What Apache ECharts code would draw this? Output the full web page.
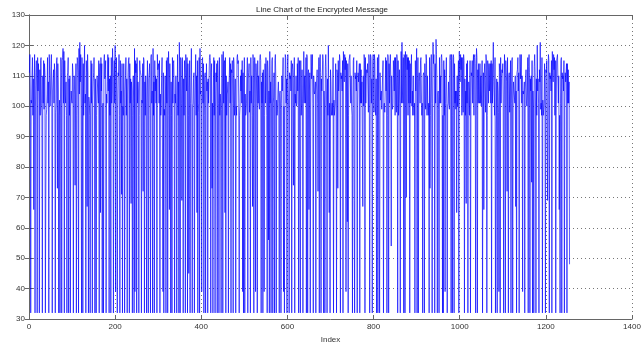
<!DOCTYPE html>
<html>
<head>
<meta charset="utf-8">
<script src="https://cdn.jsdelivr.net/npm/echarts@6/dist/echarts.min.js"></script>
<style>
  html, body { margin: 0; padding: 0; background: #fff; }
  #chart { width: 644px; height: 342px; }
</style>
</head>
<body>
<div id="chart"></div>
<script>
// character codes of the message (index 1..n)
var codes = [
  111,117,105,32,102,101,110,116,97,109,66,108,117,32,100,111,115,105,32,116,
  105,114,101,32,112,97,115,116,101,97,32,110,101,115,99,114,111,32,70,97,
  99,104,116,101,108,32,117,110,100,105,113,117,101,32,105,109,112,101,114,111,
  32,98,101,115,116,73,114,105,32,97,102,32,101,116,111,32,115,116,119,101,
  118,32,115,104,101,108,97,32,110,111,116,32,109,97,110,32,100,105,102,101,
  114,111,32,105,110,104,74,101,114,32,97,116,115,111,32,119,104,121,108,117,
  99,32,116,101,32,114,97,110,120,101,104,32,115,111,67,117,110,32,103,101,
  97,32,105,115,101,114,32,102,108,111,116,105,32,109,101,32,97,110,110,104,
  101,115,32,111,114,65,116,105,114,32,100,101,32,115,117,109,112,115,32,104,
  101,108,117,105,116,32,109,97,110,32,116,101,105,119,111,32,108,115,101,120,
  39,104,116,101,32,99,111,110,117,97,32,115,101,105,71,114,32,100,97,114,
  101,32,105,110,116,97,109,32,104,111,115,116,32,114,101,109,68,108,105,32,
  97,110,101,32,119,39,115,111,114,32,116,101,108,105,32,97,115,112,111,110,
  32,102,101,114,72,116,115,32,108,97,110,100,32,105,115,101,32,109,111,114,
  97,32,116,117,101,105,32,119,97,108,32,115,105,110,101,109,32,117,112,112,
  114,101,115,32,104,97,101,110,116,116,39,111,32,99,97,110,105,32,115,101,
  116,32,97,118,111,66,114,101,32,108,97,32,116,101,114,115,105,32,104,101,
  110,100,32,103,117,97,108,32,121,111,32,116,115,101,69,116,104,32,109,97,
  115,111,32,117,110,105,116,32,114,97,45,105,115,32,101,110,119,101,32,100,
  101,109,111,32,99,108,117,97,110,65,115,32,98,101,116,32,119,104,105,101,
  39,115,116,101,114,32,97,110,111,32,102,114,105,108,32,109,101,110,116,117,
  115,32,111,114,73,101,32,105,116,97,115,32,100,111,108,114,32,115,110,101,
  32,116,97,104,101,32,99,117,109,32,118,101,114,115,65,116,32,110,97,104,
  105,108,32,105,110,116,101,114,32,112,111,115,101,32,116,114,97,101,109,32,
  100,97,116,117,114,115,101,32,97,100,110,105,112,101,115,39,111,32,101,116,
  32,104,97,98,101,110,116,32,109,111,114,98,105,32,116,101,110,97,67,117,
  115,32,101,116,111,39,114,110,101,32,115,101,110,101,99,116,117,115,32,108,
  101,111,32,112,104,39,97,114,101,116,114,97,32,115,111,56,105,32,118,101,
  108,32,101,115,116,32,101,103,111,32,115,117,109,32,102,97,99,105,108,101,
  32,104,105,99,32,101,110,105,109,116,39,100,32,97,117,116,101,109,32,113,
  117,105,97,32,111,109,110,105,115,32,112,114,111,74,105,116,32,104,101,110,
  100,101,114,105,116,32,101,115,70,32,115,97,101,112,101,32,101,118,101,110,
  105,101,116,32,117,116,32,111,112,66,105,111,32,99,117,109,113,117,101,32,
  110,105,104,105,108,32,105,109,112,101,72,105,116,32,113,117,111,32,109,105,
  110,117,115,32,105,100,32,113,117,111,100,32,109,97,120,105,65,101,32,112,
  108,97,99,101,97,116,32,102,97,99,101,114,101,32,112,111,73,115,105,109,
  117,115,32,111,109,110,105,115,32,118,111,108,117,112,116,39,115,101,62,114,
  32,97,115,115,117,109,101,110,100,97,32,101,115,116,69,32,111,109,110,105,
  115,32,100,111,108,111,114,32,114,101,112,101,108,108,67,110,100,117,115,32,
  116,101,109,112,111,114,105,98,117,115,32,97,117,116,101,109,32,113,117,105,
  98,117,115,100,97,109,32,101,116,32,97,117,71,32,111,102,102,105,99,105,
  105,115,32,100,101,98,105,116,105,115,32,97,117,116,32,114,101,114,117,109,
  54,110,101,99,101,115,115,105,116,97,116,105,98,117,115,32,115,97,101,112,
  101,32,101,118,101,121,105,101,116,32,117,116,32,118,111,70,117,112,116,97,
  116,101,115,32,114,101,112,117,100,105,97,110,100,97,101,32,115,105,110,119,
  32,101,116,32,109,111,108,101,115,116,105,97,101,32,110,111,110,32,114,101,
  99,117,115,97,110,100,97,101,32,116,73,97,113,117,101,32,101,121,114,117,
  109,32,114,101,122,117,109,32,104,105,99,32,116,101,110,101,116,117,114,32,
  97,32,115,97,112,39,101,110,116,101,32,100,101,108,101,99,116,117,115,32,
  117,116,32,97,117,116,32,114,101,105,99,105,65,110,100,105,115,32,118,111,
  108,117,112,116,97,116,105,98,117,115,32,109,97,105,68,114,101,115,32,97,
  108,105,97,115,32,99,111,110,115,101,113,117,97,116,117,114,32,97,119,116,
  32,112,101,114,102,101,114,101,110,100,105,115,32,100,111,66,111,114,105,98,
  117,115,32,97,115,112,101,114,105,111,114,101,115,32,114,101,112,121,108,108,
  97,116,32,78,97,109,32,108,105,98,39,114,111,32,116,101,109,112,111,114,
  101,32,99,117,109,32,115,111,108,72,116,97,32,110,111,98,105,115,32,101,
  115,116,32,101,108,105,103,101,110,67,105,32,111,112,116,105,111,32,99,117,
  109,113,117,101,110,39,105,104,105,108,32,105,109,112,101,100,105,116,32,113,
  117,111,32,109,105,110,75,115,32,105,100,32,113,117,111,100,32,109,97,120,
  105,109,101,32,112,108,121,99,101,97,116,32,102,97,99,101,114,101,32,112,
  111,115,115,69,109,117,115,32,111,109,110,105,115,32,118,111,108,117,112,116,
  97,115,32,97,115,115,117,109,101,110,66,97,32,101,115,116,32,111,109,110,
  105,115,32,100,111,108,111,114,32,114,101,112,101,108,48
];

var xRange = [0, 1400];   // index axis
var xStep = 200;
var yRange = [30, 130];   // value axis
var yStep = 10;

var chart = echarts.init(document.getElementById('chart'), null, { renderer: 'canvas' });

var points = codes.map(function (v, i) { return [i + 1, v]; });

var labelFont = {
  color: '#333',
  fontSize: 8,
  fontFamily: 'Liberation Sans, Arial, sans-serif'
};
var frame = { lineStyle: { color: '#666', width: 1 } };
var grid = { lineStyle: { color: '#777', width: 1, type: [1, 3] } };
var ticks = { inside: true, length: 4, lineStyle: { color: '#666' } };

chart.setOption({
  animation: false,
  backgroundColor: '#fff',
  title: {
    text: 'Line Chart of the Encrypted Message',
    left: 'center',
    top: 1,
    textStyle: { color: '#222', fontSize: 8, fontWeight: 'normal', fontFamily: 'Liberation Sans, Arial, sans-serif' }
  },
  grid: { left: 29, right: 12, top: 15, bottom: 23, containLabel: false, outerBoundsMode: 'none' },
  xAxis: [
    {
      type: 'value',
      min: xRange[0], max: xRange[1], interval: xStep,
      name: 'Index', nameLocation: 'middle', nameGap: 13,
      nameTextStyle: labelFont,
      axisLine: frame,
      axisTick: ticks,
      axisLabel: Object.assign({ margin: 4, formatter: function (v) { return String(v); } }, labelFont),
      splitLine: grid
    },
    {
      type: 'value', position: 'top',
      min: xRange[0], max: xRange[1], interval: xStep,
      axisLine: frame,
      axisTick: ticks,
      axisLabel: { show: false },
      splitLine: { show: false }
    }
  ],
  yAxis: [
    {
      type: 'value',
      min: yRange[0], max: yRange[1], interval: yStep,
      name: 'Value', nameLocation: 'middle', nameGap: 21,
      nameTextStyle: labelFont,
      axisLine: frame,
      axisTick: ticks,
      axisLabel: Object.assign({ margin: 4 }, labelFont),
      splitLine: grid
    },
    {
      type: 'value', position: 'right',
      min: yRange[0], max: yRange[1], interval: yStep,
      axisLine: frame,
      axisTick: ticks,
      axisLabel: { show: false },
      splitLine: { show: false }
    }
  ],
  series: [
    {
      type: 'line',
      xAxisIndex: 0,
      yAxisIndex: 0,
      data: points,
      showSymbol: false,
      symbol: 'none',
      sampling: null,
      lineStyle: { color: '#0000ff', width: 0.65 }
    }
  ]
});
</script>
</body>
</html>
